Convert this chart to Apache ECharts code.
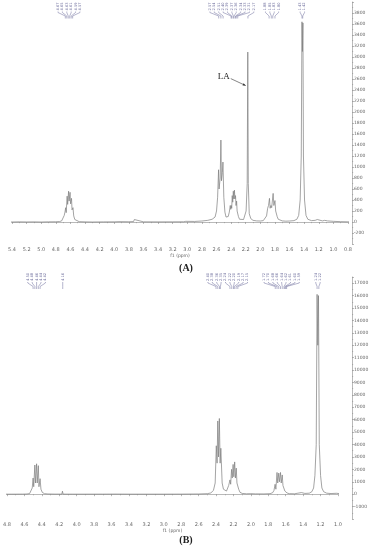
<!DOCTYPE html>
<html>
<head>
<meta charset="utf-8">
<script src="https://cdn.jsdelivr.net/npm/echarts@6/dist/echarts.min.js"></script>
<style>
html,body{margin:0;padding:0;background:#fff}
#chart{width:373px;height:550px}
</style>
</head>
<body>
<div id="chart"></div>
<script>
// spectrum (A): [ppm, intensity]
var specA = [
	[5.50,2],[5.40,0],[5.30,3],[5.20,1],[5.10,2],[5.00,0],[4.90,3],[4.80,4],[4.75,8],[4.72,20],[4.70,50],[4.685,120],
	[4.675,180],[4.665,260],[4.658,170],[4.645,470],[4.638,320],[4.625,560],[4.618,380],[4.605,540],[4.598,330],[4.585,430],[4.578,220],[4.565,260],[4.555,110],[4.54,45],[4.52,18],[4.48,6],[4.40,2],[4.30,0],
	[4.15,2],[4.00,3],[3.935,6],[3.925,18],[3.915,6],[3.80,4],[3.735,8],[3.725,45],[3.715,10],[3.60,3],[3.40,2],[3.20,3],[3.05,4],[3.02,12],[3.00,5],
	[2.90,10],[2.80,18],[2.72,30],[2.66,50],[2.62,90],[2.60,200],[2.585,450],
	[2.572,950],[2.565,600],[2.55,800],[2.540,1490],[2.532,750],[2.52,900],[2.512,1090],[2.50,450],[2.485,180],[2.47,90],[2.455,70],[2.44,100],[2.425,180],[2.412,300],
	[2.405,230],[2.398,300],[2.392,250],[2.385,480],[2.378,360],[2.370,560],[2.363,420],[2.355,580],[2.348,420],[2.340,480],[2.333,300],[2.325,380],[2.318,200],[2.31,200],[2.30,100],[2.285,50],
	[2.26,35],[2.23,45],[2.21,80],[2.195,200],[2.180,700],[2.172,3090],[2.165,700],[2.152,150],[2.13,60],[2.10,30],[2.05,20],[2.00,18],[1.96,25],[1.935,50],[1.915,110],[1.90,250],
	[1.888,300],[1.875,430],[1.866,250],[1.855,300],[1.845,260],[1.825,520],[1.815,300],[1.80,390],[1.79,200],[1.78,220],[1.77,100],[1.755,50],[1.73,25],
	[1.70,20],[1.65,15],[1.60,18],[1.54,25],[1.50,50],[1.475,120],[1.455,400],[1.44,1200],[1.430,3640],[1.424,3100],[1.417,3620],[1.41,1200],[1.395,400],[1.375,120],[1.35,50],
	[1.30,25],[1.25,30],[1.22,45],[1.20,25],[1.15,20],[1.12,30],[1.10,45],[1.08,20],[1.00,12],[0.90,6],[0.80,3],[0.75,2]
];
// spectrum (B)
var specB = [
	[4.85,2],[4.80,0],[4.70,3],[4.62,5],[4.57,15],[4.54,50],[4.52,200],[4.51,500],
	[4.50,1300],[4.493,600],[4.48,2350],[4.473,900],[4.46,2450],[4.453,900],[4.44,2300],[4.433,600],[4.42,1250],[4.41,400],[4.395,150],[4.37,40],[4.33,15],[4.25,5],
	[4.17,4],[4.163,240],[4.156,4],[4.05,3],[3.90,2],[3.70,4],[3.56,8],[3.55,40],[3.54,8],[3.40,3],[3.20,2],[3.00,3],[2.80,5],[2.60,15],[2.50,40],[2.46,100],[2.43,300],[2.41,900],
	[2.397,3900],[2.388,2500],[2.380,5900],[2.371,3000],[2.362,6100],[2.353,2500],[2.345,3700],[2.33,900],[2.315,400],[2.30,300],[2.28,250],[2.265,400],[2.255,700],
	[2.240,1150],[2.232,800],[2.222,2000],[2.214,1300],[2.204,2400],[2.196,1400],[2.186,2600],[2.178,1300],[2.168,2100],[2.160,900],[2.150,950],[2.14,400],[2.125,150],[2.10,60],
	[2.05,30],[2.00,40],[1.95,25],[1.85,20],[1.78,40],[1.75,120],[1.735,300],
	[1.722,800],[1.713,400],[1.700,1750],[1.692,900],[1.680,1700],[1.672,1000],[1.660,1750],[1.652,900],[1.640,1550],[1.632,700],[1.620,700],[1.61,250],[1.595,300],[1.585,100],[1.56,40],
	[1.50,30],[1.46,80],[1.44,150],[1.42,130],[1.38,60],[1.33,80],[1.30,200],[1.28,500],[1.265,1500],[1.25,4000],
	[1.240,16100],[1.232,12000],[1.224,16000],[1.215,4000],[1.20,1500],[1.185,500],[1.165,200],[1.13,80],[1.08,50],[1.02,70],[1.00,60],[0.95,30],[0.90,10],[0.84,5]
];
// peak picking labels
var peaksA = [
	[4.67, 4.65, 4.63, 4.61, 4.59, 4.57],
	[2.57, 2.54, 2.51, 2.40, 2.39, 2.37, 2.36, 2.34, 2.33, 2.31, 2.17],
	[1.88, 1.85, 1.83, 1.80],
	[1.43, 1.42]
];
var peaksB = [
	[4.50, 4.48, 4.46, 4.44, 4.42],
	[4.16],
	[2.40, 2.38, 2.36, 2.35, 2.24, 2.22, 2.20, 2.19, 2.17, 2.15],
	[1.72, 1.70, 1.68, 1.66, 1.64, 1.62, 1.61, 1.60, 1.59],
	[1.24, 1.22]
];

var axisColor = '#8a8a8a';
var labelColor = '#666';
var peakColor = '#6a6a9a';

function xAxisOpt(grid, min, max) {
	return {
		gridIndex: grid, type: 'value', inverse: true, min: min, max: max, interval: 0.2,
		name: 'f1 (ppm)', nameLocation: 'middle', nameGap: 8,
		nameTextStyle: {fontSize: 4.5, color: labelColor, fontFamily: 'DejaVu Sans'},
		axisLine: {show: true, lineStyle: {color: axisColor, width: 0.6}},
		axisTick: {show: true, length: 2, lineStyle: {color: axisColor, width: 0.6}},
		minorTick: {show: true, splitNumber: 2, length: 1.2, lineStyle: {color: axisColor, width: 0.5}},
		axisLabel: {fontSize: 5, color: labelColor, margin: 3, fontFamily: 'DejaVu Sans',
			formatter: function(v) { return v.toFixed(1); }},
		splitLine: {show: false}
	};
}
function yAxisOpt(grid, min, max, step, off) {
	return {
		gridIndex: grid, type: 'value', position: 'right', offset: off, min: min, max: max, interval: step,
		axisLine: {show: true, lineStyle: {color: axisColor, width: 0.6}},
		axisTick: {show: true, length: 2, lineStyle: {color: axisColor, width: 0.6}},
		minorTick: {show: true, splitNumber: 2, length: 1.2, lineStyle: {color: axisColor, width: 0.5}},
		axisLabel: {fontSize: 4.5, color: labelColor, margin: 2, fontFamily: 'DejaVu Sans',
			showMinLabel: false, showMaxLabel: false,
			formatter: function(v) { return String(Math.round(v)); }},
		splitLine: {show: false}
	};
}

var chart = echarts.init(document.getElementById('chart'), null, {renderer: 'canvas'});
option = {
	animation: false,
	backgroundColor: '#fff',
	grid: [
		{left: 12, right: 25, top: 2, height: 242},
		{left: 6, right: 35, top: 277, height: 242}
	],
	xAxis: [xAxisOpt(0, 0.8, 5.4), xAxisOpt(1, 1.0, 4.8)],
	yAxis: [yAxisOpt(0, -400, 4000, 200, 4), yAxisOpt(1, -2000, 17500, 1000, 14)],
	series: [
		{type: 'line', xAxisIndex: 0, yAxisIndex: 0, data: specA, showSymbol: false, clip: false,
			lineStyle: {color: '#7d7d7d', width: 0.7}},
		{type: 'line', xAxisIndex: 1, yAxisIndex: 1, data: specB, showSymbol: false, clip: false,
			lineStyle: {color: '#7d7d7d', width: 0.7}}
	]
};
chart.setOption(option);

// peak labels, panel letters and LA arrow
var g = [];
function peakLabels(grid, groups, textBottom) {
	for (var i = 0; i < groups.length; i++) {
		var ps = groups[i];
		var xs = ps.map(function(p) { return chart.convertToPixel({gridIndex: grid}, [p, 0])[0]; });
		var mean = xs.reduce(function(a, b) { return a + b; }, 0) / xs.length;
		var step = 4.4;
		for (var j = 0; j < ps.length; j++) {
			var lx = mean + (j - (ps.length - 1) / 2) * step;
			g.push({type: 'text', x: lx, y: textBottom, rotation: Math.PI / 2,
				style: {text: ps[j].toFixed(2), fontSize: 3.6, fill: peakColor, fontFamily: 'DejaVu Sans',
					align: 'left', verticalAlign: 'middle'}});
			g.push({type: 'polyline', shape: {points: [[lx, textBottom + 1], [lx, textBottom + 2], [xs[j], textBottom + 5.5], [xs[j], textBottom + 8]]},
				style: {stroke: peakColor, lineWidth: 0.5, fill: null}});
		}
	}
}
peakLabels(0, peaksA, 10.5);
peakLabels(1, peaksB, 281);

g.push({type: 'text', x: 186, y: 268, style: {text: '(A)', fontSize: 10, fontWeight: 'bold',
	fontFamily: 'Liberation Serif', fill: '#222', align: 'center', verticalAlign: 'middle'}});
g.push({type: 'text', x: 186, y: 540, style: {text: '(B)', fontSize: 10, fontWeight: 'bold',
	fontFamily: 'Liberation Serif', fill: '#222', align: 'center', verticalAlign: 'middle'}});

var tip = chart.convertToPixel({gridIndex: 0}, [2.20, 2480]);
var sx = tip[0] - 15, sy = tip[1] - 7;
g.push({type: 'text', x: sx - 1, y: sy - 2, style: {text: 'LA', fontSize: 9,
	fontFamily: 'Liberation Serif', fill: '#222', align: 'right', verticalAlign: 'middle'}});
g.push({type: 'line', shape: {x1: sx, y1: sy, x2: tip[0], y2: tip[1]},
	style: {stroke: '#333', lineWidth: 0.6}});
var ang = Math.atan2(tip[1] - sy, tip[0] - sx);
var hl = 3, hw = 1.2;
g.push({type: 'polygon', shape: {points: [
	[tip[0], tip[1]],
	[tip[0] - hl * Math.cos(ang) + hw * Math.sin(ang), tip[1] - hl * Math.sin(ang) - hw * Math.cos(ang)],
	[tip[0] - hl * Math.cos(ang) - hw * Math.sin(ang), tip[1] - hl * Math.sin(ang) + hw * Math.cos(ang)]
]}, style: {fill: '#333'}});

chart.setOption({graphic: g});
</script>
</body>
</html>
